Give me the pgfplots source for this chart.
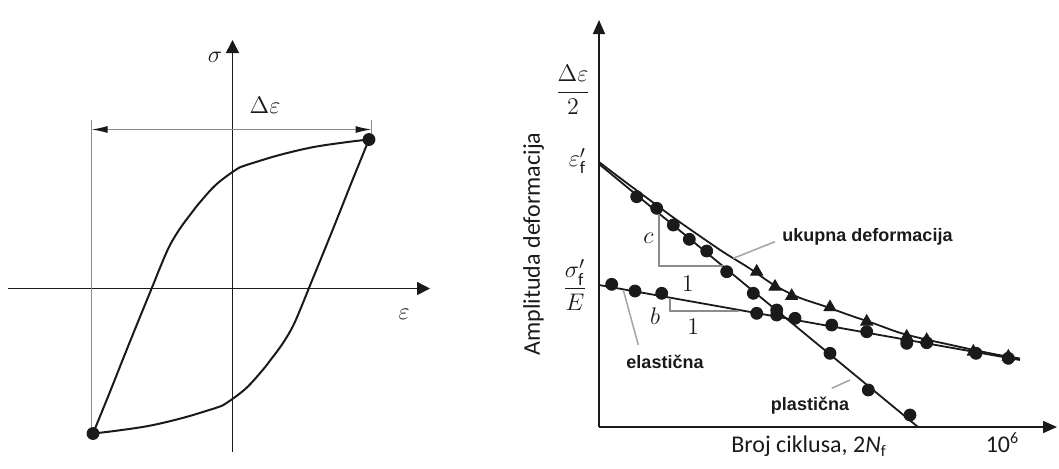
\documentclass[border=0pt]{standalone}
\usepackage{fontspec}
\setmainfont{Carlito}
\newfontfamily\labfont{Liberation Sans}
\usepackage{amsmath}
\usepackage{pgfplots}
\pgfplotsset{compat=1.18}
\usetikzlibrary{arrows.meta}

\definecolor{ink}{HTML}{1A1A1A}
\definecolor{guide}{HTML}{8C8C8C}
\definecolor{leader}{HTML}{A8A8A8}

\newcommand{\mathsz}{\fontsize{12.5}{15}\selectfont}
\newcommand{\boldsz}{\labfont\bfseries\fontsize{9}{11}\selectfont}

\begin{document}
\begin{tikzpicture}
\useasboundingbox (0,0) rectangle (529.5pt,234pt);

% left panel: hysteresis loop (units = pixels of the reference)
\begin{axis}[
    at={(116.25pt,89.75pt)}, anchor=origin,
    x=0.5pt, y=0.5pt,
    xmin=-224.5, xmax=197.5, ymin=-163.5, ymax=248.5,
    axis lines=middle,
    axis line style={ink, line width=0.8pt, -{Triangle[length=6.5pt,width=6.5pt]}},
    ticks=none,
    clip=false,
]
% upper branch
\addplot[ink, line width=1pt, smooth, tension=0.6] coordinates {
    (-139.5,-145) (-123,-104.5) (-109.7,-71) (-96.3,-37.7) (-81.3,-1)
    (-72,22) (-64,40.5) (-57,53) (-49.7,64) (-41,75.5) (-33,85.7)
    (-16.3,104) (3.7,119) (12,122.8) (20.3,125.5) (47,133.5)
    (80.3,141.3) (113.7,146.3) (136.5,149)
};
% lower branch
\addplot[ink, line width=1pt, smooth, tension=0.6] coordinates {
    (136.5,149) (120,108.5) (106.7,75) (93.3,41.7) (78.3,5)
    (69,-18) (61,-36.5) (54,-49) (46.7,-60) (38,-71.5) (30,-81.7)
    (13.3,-100) (-6.7,-115) (-15,-118.8) (-23.3,-121.5) (-50,-129.5)
    (-83.3,-137.3) (-116.7,-142.3) (-139.5,-145)
};
\addplot[only marks, mark=*, mark size=3pt, ink] coordinates {(136.5,149) (-139.5,-145)};

\draw[guide, line width=0.6pt] (-141,168.5) -- (-141,-145);
\draw[guide, line width=0.6pt] (139,168.5) -- (139,153);
\draw[guide, line width=0.6pt,
      {Latex[length=8pt,width=3.5pt,color=ink]}-{Latex[length=8pt,width=3.5pt,color=ink]}]
      (-141,159) -- (139,159);

\node[ink, font=\mathsz] at (-17.5,231) {$\sigma$};
\node[ink, font=\mathsz] at (171.5,-25.5) {$\varepsilon$};
\node[ink, font=\mathsz] at (32.5,183.5) {$\Delta\varepsilon$};
\end{axis}

% right panel: strain-life curves
\begin{axis}[
    at={(299.5pt,20.5pt)}, anchor=origin,
    x=0.5pt, y=0.5pt,
    xmin=0, xmax=458, ymin=0, ymax=407,
    axis lines=left,
    axis line style={ink, line width=0.8pt, -{Triangle[length=7pt,width=6pt]}},
    ticks=none,
    clip=false,
]
% plastic
\addplot[ink, line width=0.9pt] coordinates {(0,263) (319,0)};
% elastic
\addplot[ink, line width=0.9pt] coordinates {(0,142) (421,67)};
% total
\addplot[ink, line width=0.9pt, smooth] coordinates {
    (0,265) (25,246) (50,227.5) (75,209) (100,191.5) (125,174.5)
    (150,159) (175,142) (200,129.5) (225,121) (250,112) (275,103.5)
    (300,94.5) (325,88) (350,82.5) (375,77) (400,72) (421,68.5)
};
% elastic data
\addplot[only marks, mark=*, mark size=3pt, ink] coordinates {
    (12.7,142.7) (36,136) (62.7,133.7) (157.7,113.7) (177.7,112)
    (196,108.7) (232.7,102) (267.7,95.3) (307.7,83.7) (327.7,84.3)
    (377,73.7) (409.3,68.7)
};
% plastic data
\addplot[only marks, mark=*, mark size=3pt, ink] coordinates {
    (37.7,230.3) (57.7,218.7) (74.3,202) (90.3,187.7) (107.7,176)
    (127.7,155.3) (154.3,133.7) (177.7,117) (231,73.7) (269.3,37) (311,12)
};
% total data
\addplot[only marks, mark=triangle*, mark size=3.5pt, ink] coordinates {
    (157.7,155.3) (176,140.3) (192.7,131) (231,119.7) (267.7,105.3)
    (307.7,90.3) (327.7,87) (374.3,75.3) (409.3,70.3)
};

% slope triangles
\draw[guide, line width=0.8pt] (60,213.5) -- (60,161) -- (123.7,161);
\draw[guide, line width=0.8pt] (71,129.4) -- (71,116) -- (140,116);
\node[ink, font=\fontsize{13}{15}\selectfont] at (49.3,188.7) {$c$};
\node[ink, font=\fontsize{11.5}{14}\selectfont] at (88.7,143.7) {$1$};
\node[ink, font=\fontsize{13}{15}\selectfont] at (56,111) {$b$};
\node[ink, font=\fontsize{11.5}{14}\selectfont] at (94.3,100.3) {$1$};

% leaders and curve names
\draw[leader, line width=0.8pt] (134.3,168.7) -- (176,185.3);
\draw[leader, line width=0.8pt] (24.3,137) -- (39.3,82);
\draw[leader, line width=0.8pt] (251,47) -- (232.7,38.7);
\node[ink, font=\boldsz, anchor=base] at (268.5,186) {ukupna deformacija};
\node[ink, font=\boldsz, anchor=base] at (66,59) {elastična};
\node[ink, font=\boldsz, anchor=base] at (211,17) {plastična};

% axis texts
\node[ink, font=\mathsz] at (-26,337) {$\dfrac{\Delta\varepsilon}{2}$};
\node[ink, font=\mathsz] at (-21.5,266) {$\varepsilon'_{\mathrm{f}}$};
\node[ink, font=\mathsz] at (-24,142) {$\dfrac{\sigma'_{\mathrm{f}}}{E}$};
\node[ink, font=\fontsize{12}{14}\selectfont, rotate=90] at (-65.5,183) {Amplituda deformacija};
\node[ink, font=\fontsize{12}{14}\selectfont, anchor=base] at (210,-25.5) {Broj ciklusa, 2\textit{N}\textsubscript{f}};
\node[ink, font=\fontsize{12}{14}\selectfont, anchor=base] at (403.5,-25.5) {10\textsuperscript{6}};
\end{axis}
\end{tikzpicture}
\end{document}
